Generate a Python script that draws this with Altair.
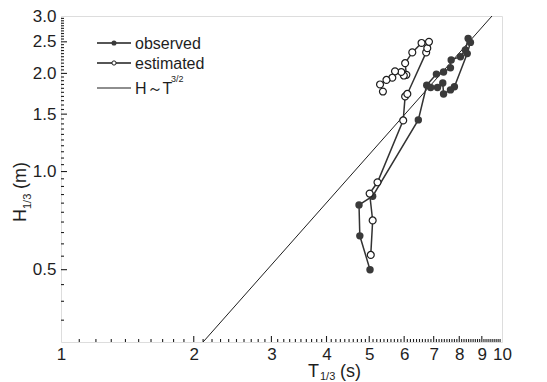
import altair as alt
import pandas as pd

# ---- data ----
obs_T = [5.02, 4.76, 4.74, 5.09, 6.46, 6.75, 7.10, 7.37, 7.64, 7.67, 8.05, 8.26, 8.38, 8.48,
         8.34, 7.80, 7.64, 7.37, 7.34, 7.14, 6.89]
obs_H = [0.50, 0.635, 0.79, 0.84, 1.44, 1.84, 1.99, 2.02, 2.08, 2.20, 2.25, 2.36, 2.56, 2.49,
         2.30, 1.82, 1.78, 1.73, 1.87, 1.81, 1.81]

est_T = [5.04, 5.09, 5.01, 5.22, 5.97, 6.03, 6.10, 6.73, 6.77, 6.83, 6.57, 6.26, 6.03, 6.07,
         5.99, 5.91, 5.72, 5.64, 5.47, 5.29, 5.37]
est_H = [0.555, 0.708, 0.856, 0.927, 1.435, 1.70, 1.73, 2.32, 2.39, 2.50, 2.48, 2.32, 2.15, 1.98,
         1.97, 2.02, 2.03, 1.94, 1.91, 1.85, 1.76]

ref_T = [2.10, 9.49]
ref_H = [0.30, 3.00]

x_labels = [1, 2, 3, 4, 5, 6, 7, 8, 9, 10]
x_major = [2, 3, 4, 5, 6, 7, 8, 9]
x_minor = [round(a + b / 10, 1) for a in range(1, 10) for b in range(1, 10)]
y_labels = [0.5, 1.0, 1.5, 2.0, 2.5, 3.0]
y_major = [0.5, 1.0, 1.5, 2.0, 2.5]
y_minor = [v for v in [round(0.30 + 0.05 * i, 2) for i in range(1, 54)] if v not in y_major]

legend_labels = ["observed", "estimated"]

# ---- layout / style ----
W, H = 441, 326
FONT = "Liberation Sans"
INK = "#1e1e1e"
DOT = "#3a3a3a"

obs = pd.DataFrame({"T": obs_T, "H": obs_H, "i": range(len(obs_T))})
est = pd.DataFrame({"T": est_T, "H": est_H, "i": range(len(est_T))})
ref = pd.DataFrame({"T": ref_T, "H": ref_H})

xs = alt.Scale(type="log", domain=[1, 10], nice=False)
ys = alt.Scale(type="log", domain=[0.3, 3.0], nice=False)
xaxis = alt.Axis(values=x_labels, format="d", title=None, ticks=False, domain=False, grid=False,
                 labelFontSize=17, labelFont=FONT, labelColor=INK, labelPadding=4,
                 labelFlush=False, labelOverlap=False)
yaxis = alt.Axis(values=y_labels, format=".1f", title=None, ticks=False, domain=False, grid=False,
                 labelFontSize=17, labelFont=FONT, labelColor=INK, labelPadding=5,
                 labelFlush=False, labelOverlap=False)

X = alt.X("T:Q", scale=xs, axis=xaxis)
Y = alt.Y("H:Q", scale=ys, axis=yaxis)

ref_line = alt.Chart(ref).mark_line(color=INK, strokeWidth=1).encode(x=X, y=Y)
obs_line = alt.Chart(obs).mark_line(color="#333333", strokeWidth=1.5).encode(x=X, y=Y, order="i:Q")
est_line = alt.Chart(est).mark_line(color="#333333", strokeWidth=1.5).encode(x=X, y=Y, order="i:Q")
obs_pts = alt.Chart(obs).mark_circle(color=DOT, opacity=1, size=55).encode(x=X, y=Y)
est_pts = alt.Chart(est).mark_circle(fill="white", stroke=INK, strokeWidth=1.2, opacity=1,
                                     fillOpacity=1, size=48).encode(x=X, y=Y)

def xticks(vals, length):
    df = pd.DataFrame({"T": vals})
    return alt.Chart(df).mark_rule(color=INK, strokeWidth=1.1).encode(
        x=X, y=alt.value(H), y2=alt.value(H - length))

def yticks(vals, length):
    df = pd.DataFrame({"H": vals})
    return alt.Chart(df).mark_rule(color=INK, strokeWidth=1.1).encode(
        y=Y, x=alt.value(0), x2=alt.value(length))

ticks = [xticks(x_major, 6), xticks(x_minor, 3), yticks(y_major, 6), yticks(y_minor, 3)]

# ---- legend (drawn by hand, top-left inside the plot) ----
def txt(s, x, y, size=16, angle=None, align="left"):
    kw = dict(text=s, font=FONT, fontSize=size, color=INK, align=align, baseline="alphabetic")
    if angle is not None:
        kw["angle"] = angle
    return alt.Chart(pd.DataFrame({"a": [0]})).mark_text(**kw).encode(
        x=alt.value(x), y=alt.value(y))

def hline(x1, x2, y, w=1.5):
    return alt.Chart(pd.DataFrame({"a": [0]})).mark_rule(color=INK, strokeWidth=w).encode(
        x=alt.value(x1), x2=alt.value(x2), y=alt.value(y))

def dot(x, y, filled):
    if filled:
        m = alt.Chart(pd.DataFrame({"a": [0]})).mark_circle(color=DOT, opacity=1, size=26)
    else:
        m = alt.Chart(pd.DataFrame({"a": [0]})).mark_circle(fill="white", stroke=INK, strokeWidth=1,
                                                             opacity=1, fillOpacity=1, size=18)
    return m.encode(x=alt.value(x), y=alt.value(y))

legend = [
    hline(36, 70, 27), dot(53, 27, True), txt(legend_labels[0], 74, 32.5, 16),
    hline(36, 70, 47), dot(53, 47, False), txt(legend_labels[1], 74, 52.5, 16),
    hline(36, 70, 72, 1.1), txt("H～T", 74, 78, 16), txt("3/2", 110, 66, 9),
]

# ---- axis titles with subscripts ----
titles = [
    txt("H", -35, 206, 18, 270), txt("1/3", -30, 193, 11, 270), txt("(m)", -35, 173, 18, 270),
    txt("T", 247, 361, 18), txt("1/3", 259, 364, 11), txt("(s)", 279, 361, 18),
]

chart = alt.layer(
    ref_line, obs_line, est_line, obs_pts, est_pts, *ticks, *legend, *titles
).properties(
    width=W, height=H,
    padding={"left": 61, "top": 16, "right": 45, "bottom": 40},
    autosize="none",
).configure_view(stroke=INK, strokeWidth=2).configure(background="white")

chart.save("out.html", embed_options={"renderer": "svg", "actions": False})
